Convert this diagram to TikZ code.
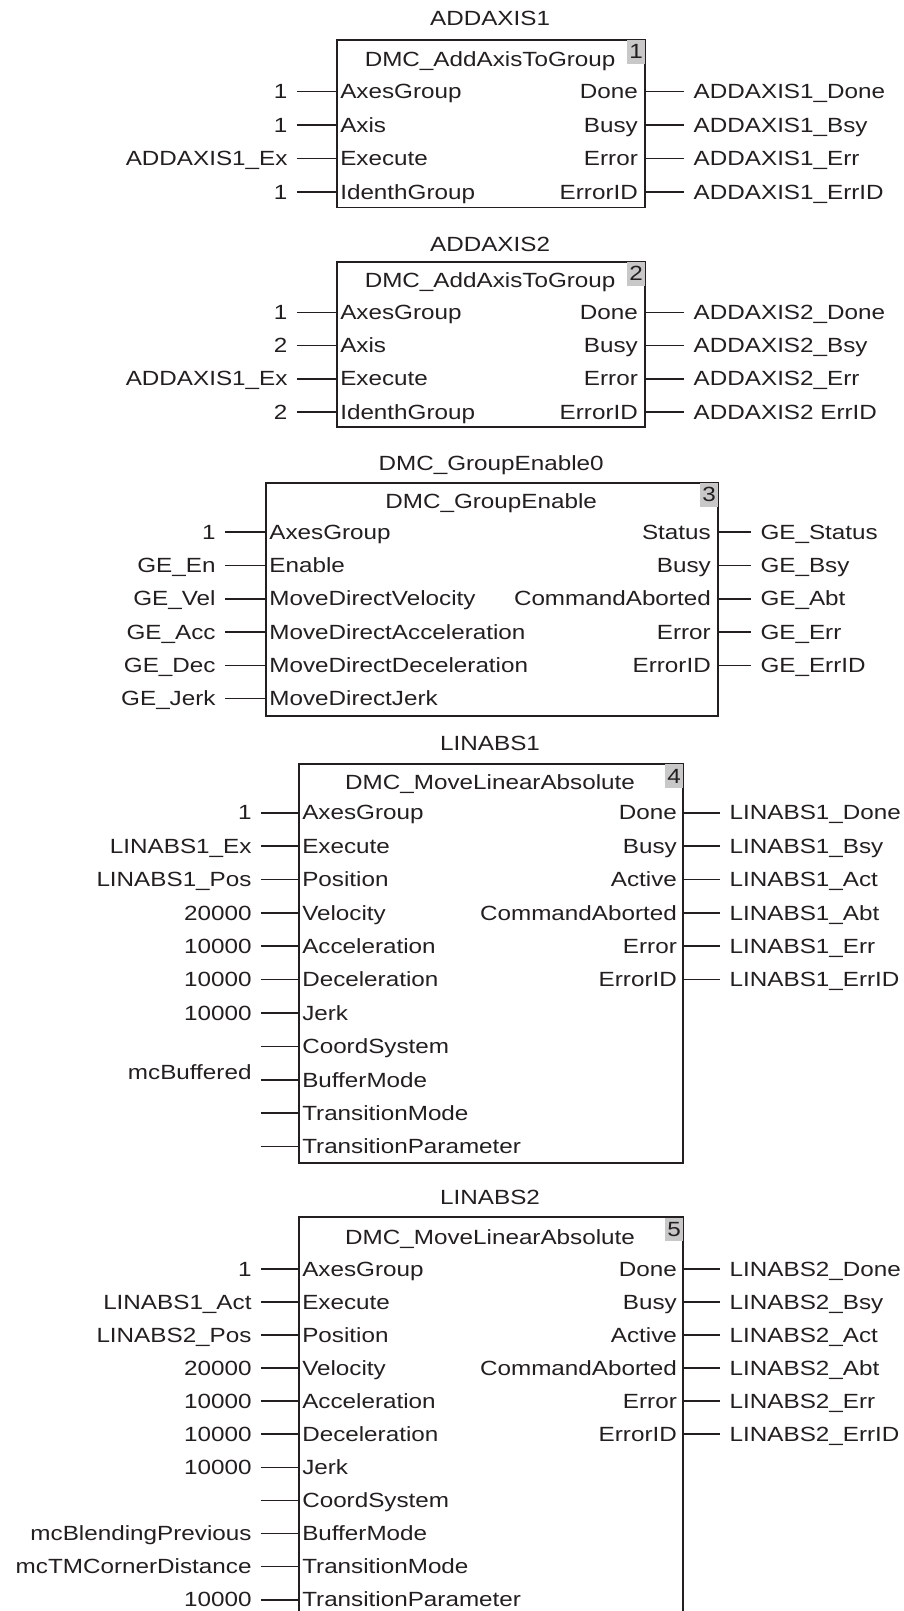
\documentclass[tikz,border=0pt]{standalone}
\usepackage{fontspec}
\setmainfont{Liberation Sans}[FakeStretch=1.18]
\usetikzlibrary{positioning,calc}
\definecolor{ink}{HTML}{231F20}
\definecolor{badgegray}{HTML}{C8C8C8}

\begin{document}
\begin{tikzpicture}[
    x=1pt, y=-1pt,
    every node/.style={font=\fontsize{20}{24}\selectfont, text=ink},
    fbbox/.style={draw=ink, line width=1.6pt, anchor=north west, inner sep=0pt},
    badge/.style={fill=badgegray, anchor=north east, minimum width=17pt,
                  minimum height=23pt, inner sep=0pt},
    pintext/.style={inner sep=0pt, text height=14pt, text depth=0pt},
    pinin/.style={pintext, anchor=west},
    pinout/.style={pintext, anchor=east},
    valin/.style={pintext, anchor=east, inner xsep=9pt},
    valout/.style={pintext, anchor=west, inner xsep=9pt},
    wire/.style={draw=ink, line width=1.6pt},
]
\useasboundingbox (0,0) rectangle (879,1568);
\clip (0,0) rectangle (879,1568);

% ADDAXIS1
\node[fbbox, minimum width=300pt, minimum height=163pt] (fb1) at (327,38) {};
\node[pintext] (t1) at (477,18) {ADDAXIS1};
\node[pintext] (h1) at (477,58) {DMC\_AddAxisToGroup};
\node[badge] (n1) at ([shift={(-0.8pt,-0.8pt)}]fb1.north east) {1};
\foreach \pin/\val [count=\i, evaluate=\i as \y using 89+(\i-1)*32.7] in
    {AxesGroup/1, Axis/1, Execute/ADDAXIS1\_Ex, IdenthGroup/1} {
  \node[pinin] (fb1i\i) at (331,\y) {\pin};
  \node[valin] (fb1v\i) at (289,\y) {\val};
  \draw[wire] (fb1v\i.east) -- (fb1v\i.east -| fb1.west);
}
\foreach \pin/\val [count=\i, evaluate=\i as \y using 89+(\i-1)*32.7] in
    {Done/ADDAXIS1\_Done, Busy/ADDAXIS1\_Bsy, Error/ADDAXIS1\_Err, ErrorID/ADDAXIS1\_ErrID} {
  \node[pinout] (fb1o\i) at (621,\y) {\pin};
  \node[valout] (fb1w\i) at (666,\y) {\val};
  \draw[wire] (fb1o\i -| fb1.east) -- (fb1w\i.west);
}

% ADDAXIS2
\node[fbbox, minimum width=300pt, minimum height=161pt] (fb2) at (327,254) {};
\node[pintext] (t2) at (477,238) {ADDAXIS2};
\node[pintext] (h2) at (477,273) {DMC\_AddAxisToGroup};
\node[badge] (n2) at ([shift={(-0.8pt,-0.8pt)}]fb2.north east) {2};
\foreach \pin/\val [count=\i, evaluate=\i as \y using 304+(\i-1)*32.3] in
    {AxesGroup/1, Axis/2, Execute/ADDAXIS1\_Ex, IdenthGroup/2} {
  \node[pinin] (fb2i\i) at (331,\y) {\pin};
  \node[valin] (fb2v\i) at (289,\y) {\val};
  \draw[wire] (fb2v\i.east) -- (fb2v\i.east -| fb2.west);
}
\foreach \pin/\val [count=\i, evaluate=\i as \y using 304+(\i-1)*32.3] in
    {Done/ADDAXIS2\_Done, Busy/ADDAXIS2\_Bsy, Error/ADDAXIS2\_Err, ErrorID/{ADDAXIS2 ErrID}} {
  \node[pinout] (fb2o\i) at (621,\y) {\pin};
  \node[valout] (fb2w\i) at (666,\y) {\val};
  \draw[wire] (fb2o\i -| fb2.east) -- (fb2w\i.west);
}

% DMC_GroupEnable0
\node[fbbox, minimum width=440pt, minimum height=227pt] (fb3) at (258,469) {};
\node[pintext] (t3) at (478,451) {DMC\_GroupEnable0};
\node[pintext] (h3) at (478,488) {DMC\_GroupEnable};
\node[badge] (n3) at ([shift={(-0.8pt,-0.8pt)}]fb3.north east) {3};
\foreach \pin/\val [count=\i, evaluate=\i as \y using 518+(\i-1)*32.4] in
    {AxesGroup/1, Enable/GE\_En, MoveDirectVelocity/GE\_Vel,
     MoveDirectAcceleration/GE\_Acc, MoveDirectDeceleration/GE\_Dec, MoveDirectJerk/GE\_Jerk} {
  \node[pinin] (fb3i\i) at (262,\y) {\pin};
  \node[valin] (fb3v\i) at (219,\y) {\val};
  \draw[wire] (fb3v\i.east) -- (fb3v\i.east -| fb3.west);
}
\foreach \pin/\val [count=\i, evaluate=\i as \y using 518+(\i-1)*32.4] in
    {Status/GE\_Status, Busy/GE\_Bsy, CommandAborted/GE\_Abt, Error/GE\_Err, ErrorID/GE\_ErrID} {
  \node[pinout] (fb3o\i) at (692,\y) {\pin};
  \node[valout] (fb3w\i) at (731,\y) {\val};
  \draw[wire] (fb3o\i -| fb3.east) -- (fb3w\i.west);
}

% LINABS1
\node[fbbox, minimum width=374pt, minimum height=388pt] (fb4) at (290,743) {};
\node[pintext] (t4) at (477,723) {LINABS1};
\node[pintext] (h4) at (477,761) {DMC\_MoveLinearAbsolute};
\node[badge] (n4) at ([shift={(-0.8pt,-0.8pt)}]fb4.north east) {4};
\foreach \pin/\val [count=\i, evaluate=\i as \y using 791+(\i-1)*32.5] in
    {AxesGroup/1, Execute/LINABS1\_Ex, Position/LINABS1\_Pos, Velocity/20000,
     Acceleration/10000, Deceleration/10000, Jerk/10000, CoordSystem/{},
     BufferMode/{\raisebox{7pt}{mcBuffered}\hspace{3pt}}, TransitionMode/{}, TransitionParameter/{}} {
  \node[pinin] (fb4i\i) at (294,\y) {\pin};
  \node[valin] (fb4v\i) at (254,\y) {\val};
  \draw[wire] (fb4v\i.east) -- (fb4v\i.east -| fb4.west);
}
\foreach \pin/\val [count=\i, evaluate=\i as \y using 791+(\i-1)*32.5] in
    {Done/LINABS1\_Done, Busy/LINABS1\_Bsy, Active/LINABS1\_Act,
     CommandAborted/LINABS1\_Abt, Error/LINABS1\_Err, ErrorID/LINABS1\_ErrID} {
  \node[pinout] (fb4o\i) at (659,\y) {\pin};
  \node[valout] (fb4w\i) at (701,\y) {\val};
  \draw[wire] (fb4o\i -| fb4.east) -- (fb4w\i.west);
}

% LINABS2 (runs off the bottom edge)
\node[fbbox, minimum width=374pt, minimum height=450pt] (fb5) at (290,1184) {};
\node[pintext] (t5) at (477,1165) {LINABS2};
\node[pintext] (h5) at (477,1204) {DMC\_MoveLinearAbsolute};
\node[badge] (n5) at ([shift={(-0.8pt,-0.8pt)}]fb5.north east) {5};
\foreach \pin/\val [count=\i, evaluate=\i as \y using 1235+(\i-1)*32.2] in
    {AxesGroup/1, Execute/LINABS1\_Act, Position/LINABS2\_Pos, Velocity/20000,
     Acceleration/10000, Deceleration/10000, Jerk/10000, CoordSystem/{},
     BufferMode/mcBlendingPrevious, TransitionMode/mcTMCornerDistance, TransitionParameter/10000} {
  \node[pinin] (fb5i\i) at (294,\y) {\pin};
  \node[valin] (fb5v\i) at (254,\y) {\val};
  \draw[wire] (fb5v\i.east) -- (fb5v\i.east -| fb5.west);
}
\foreach \pin/\val [count=\i, evaluate=\i as \y using 1235+(\i-1)*32.2] in
    {Done/LINABS2\_Done, Busy/LINABS2\_Bsy, Active/LINABS2\_Act,
     CommandAborted/LINABS2\_Abt, Error/LINABS2\_Err, ErrorID/LINABS2\_ErrID} {
  \node[pinout] (fb5o\i) at (659,\y) {\pin};
  \node[valout] (fb5w\i) at (701,\y) {\val};
  \draw[wire] (fb5o\i -| fb5.east) -- (fb5w\i.west);
}

\end{tikzpicture}
\end{document}
